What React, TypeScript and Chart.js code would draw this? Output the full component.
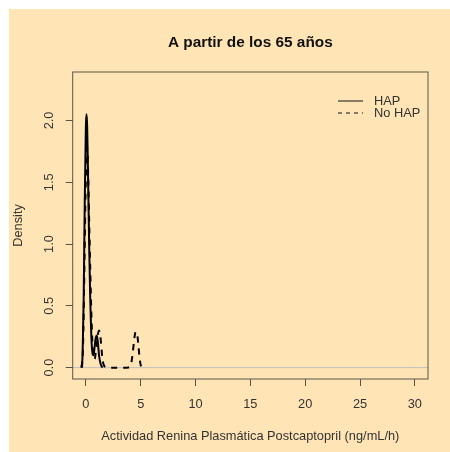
import { useEffect, useRef } from "react";
import { Chart, registerables } from "chart.js";

Chart.register(...registerables);

// Kernel density estimates of post-captopril plasma renin activity
const hapX = [-0.42, -0.3, -0.2, -0.1, 0, 0.06, 0.12, 0.2, 0.3, 0.4, 0.5, 0.6, 0.7, 0.8, 0.9, 1.0, 1.1, 1.2, 1.35, 1.5];
const hapY = [0, 0.1, 0.55, 1.35, 1.95, 2.05, 1.95, 1.55, 1.0, 0.55, 0.25, 0.12, 0.1, 0.17, 0.24, 0.26, 0.2, 0.1, 0.03, 0];

const noHapX = [-0.35, -0.25, -0.15, -0.05, 0.05, 0.12, 0.2, 0.3, 0.4, 0.5, 0.6, 0.7, 0.8, 0.9, 1.0, 1.1, 1.2, 1.3, 1.4, 1.5, 1.6, 1.8, 2.2, 2.8, 3.4, 3.9, 4.1, 4.25, 4.4, 4.5, 4.6, 4.7, 4.8, 4.9, 5.0, 5.1];
const noHapY = [0, 0.2, 0.7, 1.3, 1.7, 1.78, 1.6, 1.2, 0.8, 0.45, 0.2, 0.1, 0.07, 0.12, 0.2, 0.27, 0.3, 0.27, 0.18, 0.08, 0.03, 0.005, 0, 0, 0, 0.002, 0.02, 0.1, 0.22, 0.28, 0.29, 0.26, 0.17, 0.08, 0.02, 0];

const xTicks = [0, 5, 10, 15, 20, 25, 30];
const yTicks = [0, 0.5, 1.0, 1.5, 2.0];
const seriesNames = ["HAP", "No HAP"];

const chartTitle = "A partir de los 65 años";
const xTitle = "Actividad Renina Plasmática Postcaptopril (ng/mL/h)";
const yTitle = "Density";

const FONT = "'Liberation Sans', Arial, Helvetica, sans-serif";
const BASE = 12.8;
const BG = "#FFE4B5";
const AXIS = "#5a5448";
const TEXT = "#333333";
const DASH = [6, 6];

const rFrame = {
  id: "rFrame",
  beforeDatasetsDraw(chart: any) {
    const { ctx, chartArea, scales } = chart;
    const y0 = scales.y.getPixelForValue(0);
    ctx.save();
    ctx.strokeStyle = "#BEBEBE";
    ctx.lineWidth = 1;
    ctx.beginPath();
    ctx.moveTo(chartArea.left, y0);
    ctx.lineTo(chartArea.right, y0);
    ctx.stroke();
    ctx.restore();
  },
  afterDraw(chart: any) {
    const { ctx, chartArea, scales } = chart;
    const { left, right, top, bottom } = chartArea;
    ctx.save();
    // plot box
    ctx.strokeStyle = AXIS;
    ctx.lineWidth = 1;
    ctx.strokeRect(left, top, right - left, bottom - top);

    // title
    ctx.fillStyle = "#111111";
    ctx.font = `bold ${BASE * 1.2}px ${FONT}`;
    ctx.textAlign = "center";
    ctx.textBaseline = "middle";
    ctx.fillText(chartTitle, (left + right) / 2, top - 29);

    // y tick labels, rotated like base graphics
    ctx.fillStyle = TEXT;
    ctx.font = `${BASE}px ${FONT}`;
    for (const v of yTicks) {
      const py = scales.y.getPixelForValue(v);
      ctx.save();
      ctx.translate(left - 23.7, py);
      ctx.rotate(-Math.PI / 2);
      ctx.fillText(v.toFixed(1), 0, 0);
      ctx.restore();
    }

    // legend
    const lx0 = right - 90;
    const lx1 = lx0 + 25;
    const tx = lx1 + 11;
    const rows = [top + 29, top + 41];
    ctx.strokeStyle = "#111111";
    ctx.lineWidth = 1;
    rows.forEach((ry, i) => {
      ctx.setLineDash(i === 0 ? [] : [4, 4]);
      ctx.beginPath();
      ctx.moveTo(lx0, ry);
      ctx.lineTo(lx1, ry);
      ctx.stroke();
      ctx.setLineDash([]);
      ctx.textAlign = "left";
      ctx.fillText(seriesNames[i], tx, ry);
    });
    ctx.restore();
  },
};

export default function App() {
  const canvasRef = useRef<HTMLCanvasElement | null>(null);

  useEffect(() => {
    const canvas = canvasRef.current;
    if (!canvas) return;
    const chart = new Chart(canvas, {
      type: "line",
      data: {
        datasets: [
          {
            label: seriesNames[0],
            data: hapX.map((x, i) => ({ x, y: hapY[i] })),
            borderColor: "#000000",
            borderWidth: 2,
            pointRadius: 0,
            cubicInterpolationMode: "monotone",
            fill: false,
          },
          {
            label: seriesNames[1],
            data: noHapX.map((x, i) => ({ x, y: noHapY[i] })),
            borderColor: "#000000",
            borderWidth: 2,
            borderDash: DASH,
            pointRadius: 0,
            cubicInterpolationMode: "monotone",
            fill: false,
          },
        ],
      },
      options: {
        animation: false,
        responsive: false,
        events: [],
        layout: { padding: { top: 63, right: 22, left: 0, bottom: 0 } },
        plugins: {
          legend: { display: false },
          title: { display: false },
          tooltip: { enabled: false },
        },
        scales: {
          x: {
            type: "linear",
            min: -1.2,
            max: 31.2,
            afterBuildTicks: (s: any) => {
              s.ticks = xTicks.map((value) => ({ value }));
            },
            afterFit: (s: any) => {
              s.height = 73;
            },
            ticks: {
              color: TEXT,
              font: { family: FONT, size: BASE },
              padding: 10.5,
              maxRotation: 0,
              callback: (v: any) => String(v),
            },
            grid: {
              drawOnChartArea: false,
              drawTicks: true,
              tickLength: 7,
              color: AXIS,
              lineWidth: 1,
            },
            border: { display: false },
            title: {
              display: true,
              text: xTitle,
              color: TEXT,
              font: { family: FONT, size: BASE },
              padding: { top: 0, bottom: 8 },
            },
          },
          y: {
            type: "linear",
            min: -0.092,
            max: 2.392,
            afterBuildTicks: (s: any) => {
              s.ticks = yTicks.map((value) => ({ value }));
            },
            afterFit: (s: any) => {
              s.width = 63.7;
            },
            ticks: { display: false },
            grid: {
              drawOnChartArea: false,
              drawTicks: true,
              tickLength: 7,
              color: AXIS,
              lineWidth: 1,
            },
            border: { display: false },
            title: {
              display: true,
              text: yTitle,
              color: TEXT,
              font: { family: FONT, size: BASE },
              padding: { top: 1.5, bottom: 0 },
            },
          },
        },
      },
      plugins: [rFrame],
    });
    return () => chart.destroy();
  }, []);

  return (
    <div
      style={{
        position: "fixed",
        left: 9,
        top: 9,
        width: 441,
        height: 443,
        background: BG,
      }}
    >
      <canvas ref={canvasRef} width={441} height={443} style={{ display: "block" }} />
    </div>
  );
}
